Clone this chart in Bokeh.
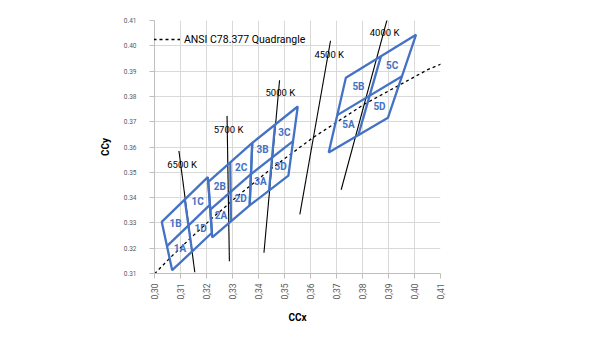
from bokeh.plotting import figure
from bokeh.models import Range1d, FixedTicker, CustomJSTickFormatter, Legend, LegendItem
from bokeh.core.properties import value
from bokeh.embed import file_html
from bokeh.resources import INLINE
import math

# ---------------- data ----------------
x_ticks = [0.30, 0.31, 0.32, 0.33, 0.34, 0.35, 0.36, 0.37, 0.38, 0.39, 0.40, 0.41]
y_ticks = [0.31, 0.32, 0.33, 0.34, 0.35, 0.36, 0.37, 0.38, 0.39, 0.40, 0.41]

# Planckian locus (dashed)
locus_x = [0.2952, 0.3064, 0.3135, 0.3221, 0.3324, 0.3451, 0.3608, 0.3805, 0.4053, 0.4369]
locus_y = [0.3048, 0.3166, 0.3236, 0.3318, 0.3410, 0.3516, 0.3636, 0.3768, 0.3907, 0.4041]

# ANSI quadrangles: corners (top-right, top-left, bottom-left, bottom-right)
quad_names = ["1", "2", "3", "5"]
quad_x = [
    [0.3205, 0.3028, 0.3068, 0.3221],
    [0.3376, 0.3207, 0.3222, 0.3366],
    [0.3551, 0.3376, 0.3366, 0.3515],
    [0.4006, 0.3736, 0.3670, 0.3898],
]
quad_y = [
    [0.3481, 0.3304, 0.3113, 0.3261],
    [0.3616, 0.3462, 0.3243, 0.3369],
    [0.3760, 0.3616, 0.3369, 0.3487],
    [0.4044, 0.3874, 0.3578, 0.3716],
]

# CCT isotherm lines
cct_labels = ["6500 K", "5700 K", "5000 K", "4500 K", "4000 K"]
cct_x0 = [0.3094, 0.3279, 0.3481, 0.3677, 0.3895]
cct_y0 = [0.3584, 0.3723, 0.3864, 0.4020, 0.4105]
cct_x1 = [0.3155, 0.3288, 0.3421, 0.3559, 0.3718]
cct_y1 = [0.3105, 0.3148, 0.3182, 0.3334, 0.3431]
cct_lx = [0.3049, 0.3228, 0.3427, 0.3615, 0.3828]
cct_ly = [0.3532, 0.3670, 0.3814, 0.3967, 0.4053]

BLUE = "#4472C4"
FONT = "Roboto"

p = figure(width=591, height=354, output_backend="svg", toolbar_location=None,
           x_range=Range1d(0.30, 0.41), y_range=Range1d(0.31, 0.41),
           min_border_left=154, min_border_right=151, min_border_top=20, min_border_bottom=81)
p.outline_line_color = None
p.background_fill_color = "white"
p.border_fill_color = "white"

for g in (p.xgrid[0], p.ygrid[0]):
    g.grid_line_color = "#d9d9d9"
    g.grid_line_width = 1
p.xgrid.ticker = FixedTicker(ticks=x_ticks)
p.ygrid.ticker = FixedTicker(ticks=y_ticks)

xa = p.xaxis[0]
ya = p.yaxis[0]
xa.ticker = FixedTicker(ticks=x_ticks)
ya.ticker = FixedTicker(ticks=y_ticks)
xa.formatter = CustomJSTickFormatter(code="return tick.toFixed(2).replace('.', ',');")
ya.formatter = CustomJSTickFormatter(code="return tick.toFixed(2);")
xa.major_label_orientation = math.pi / 2
for a in (xa, ya):
    a.axis_line_color = "#bfbfbf"
    a.major_tick_line_color = "#bfbfbf"
    a.major_tick_in = 0
    a.major_tick_out = 5
    a.minor_tick_line_color = None
    a.major_label_text_color = "#595959"
    a.major_label_text_font = FONT
    a.axis_label_text_font = FONT
    a.axis_label_text_font_style = "bold"
    a.axis_label_text_color = "#000000"
    a.axis_label_text_font_size = "10px"
xa.major_label_text_font_size = "8.5px"
ya.major_label_text_font_size = "6.5px"
xa.major_label_standoff = 5
ya.major_label_standoff = 13
xa.axis_label = "CCx"
ya.axis_label = "CCy"
xa.axis_label_standoff = 9
ya.axis_label_standoff = 10

# Planckian locus
locus_r = p.line(locus_x, locus_y, line_color="black", line_width=1.3, line_dash="3 3")

# CCT lines and labels
p.segment(x0=cct_x0, y0=cct_y0, x1=cct_x1, y1=cct_y1, line_color="black", line_width=1.1)
p.text(x=cct_lx, y=cct_ly, text=cct_labels, text_font=value(FONT), text_font_size="9.5px",
       text_align="left", text_baseline="middle", text_color="black")

# Quadrangles
lab_x, lab_y, lab_t = [], [], []
for name, qx, qy in zip(quad_names, quad_x, quad_y):
    tr, tl, bl, br = list(zip(qx, qy))
    p.patch(list(qx), list(qy), fill_color=None, line_color=BLUE, line_width=2.3)
    mid = lambda a, b: ((a[0] + b[0]) / 2, (a[1] + b[1]) / 2)
    m_top, m_left, m_bot, m_right = mid(tl, tr), mid(tl, bl), mid(bl, br), mid(br, tr)
    c = (sum(qx) / 4, sum(qy) / 4)
    p.segment(x0=[m_top[0], m_left[0]], y0=[m_top[1], m_left[1]],
              x1=[m_bot[0], m_right[0]], y1=[m_bot[1], m_right[1]],
              line_color=BLUE, line_width=2.3)
    subs = {
        "A": [bl, m_bot, c, m_left],
        "B": [tl, m_left, c, m_top],
        "C": [tr, m_top, c, m_right],
        "D": [br, m_right, c, m_bot],
    }
    for k, pts in subs.items():
        lab_x.append(sum(q[0] for q in pts) / 4)
        lab_y.append(sum(q[1] for q in pts) / 4)
        lab_t.append(name + k)

p.text(x=lab_x, y=lab_y, text=lab_t, text_font=value(FONT), text_font_size="10px",
       text_font_style="bold", text_align="center", text_baseline="middle", text_color=BLUE)

legend = Legend(items=[LegendItem(label="ANSI C78.377 Quadrangle", renderers=[locus_r])],
                location=(-1, 224), padding=0, margin=0, spacing=0,
                glyph_width=27, glyph_height=20, label_height=20, label_standoff=4,
                label_text_font=FONT, label_text_font_size="10.5px", label_text_color="black",
                background_fill_alpha=0, border_line_color=None)
p.add_layout(legend, "center")

open("out.html", "w").write(file_html(p, INLINE))
